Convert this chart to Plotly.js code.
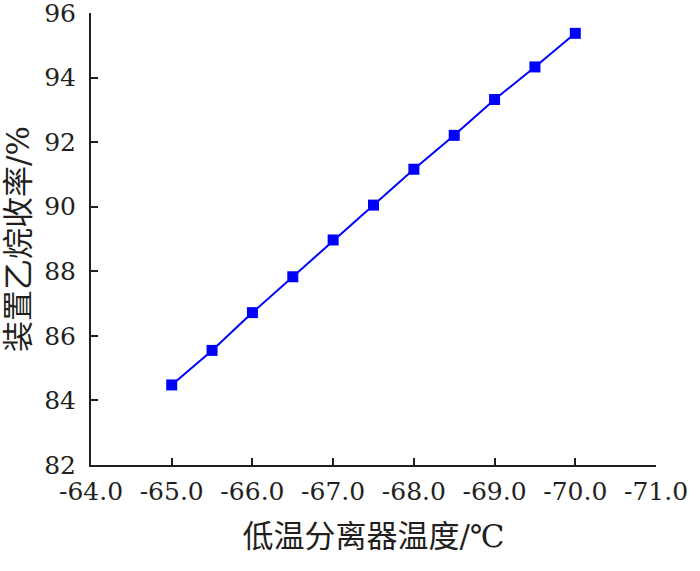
<!DOCTYPE html>
<html><head><meta charset="utf-8">
<script src="https://cdn.plot.ly/plotly-3.0.1.min.js"></script>
<style>html,body{margin:0;padding:0;background:#fff}#c{width:700px;height:571px}</style>
</head><body><div id="c"></div>
<script>
const temps = [-65.0, -65.5, -66.0, -66.5, -67.0, -67.5, -68.0, -68.5, -69.0, -69.5, -70.0];
const yieldPct = [84.48, 85.55, 86.72, 87.83, 88.97, 90.05, 91.16, 92.21, 93.32, 94.33, 95.37];
const xTickVals = [-64, -65, -66, -67, -68, -69, -70, -71];
const xTickText = ['-64.0', '-65.0', '-66.0', '-67.0', '-68.0', '-69.0', '-70.0', '-71.0'];
const yTickVals = [82, 84, 86, 88, 90, 92, 94, 96];
const yTickText = ['82', '84', '86', '88', '90', '92', '94', '96'];
const xTitle = '低温分离器温度/℃';
const yTitle = '装置乙烷收率/%';

const serif = "DejaVu Serif, serif";
const titleFont = "DejaVu Serif, Noto Sans CJK SC";
const axisColor = '#231f20';

Plotly.newPlot('c', [{
  x: temps, y: yieldPct, type: 'scatter', mode: 'lines+markers',
  line: {color: '#0000ff', width: 2},
  marker: {symbol: 'square', size: 11, color: '#0000ff'},
  cliponaxis: false
}], {
  width: 700, height: 571,
  margin: {l: 91, r: 44, t: 13, b: 106},
  paper_bgcolor: '#fff', plot_bgcolor: '#fff',
  showlegend: false,
  font: {family: serif, color: axisColor, size: 25},
  xaxis: {
    range: [-64, -71], tickmode: 'array', tickvals: xTickVals, ticktext: xTickText,
    showgrid: false, zeroline: false, showline: true, linecolor: axisColor, linewidth: 2,
    ticks: 'inside', ticklen: 7, tickwidth: 2, tickcolor: axisColor,
    ticklabeloverflow: 'allow', ticklabelstandoff: 3,
    tickfont: {family: serif, size: 25, color: axisColor},
    title: {text: xTitle, font: {family: titleFont, size: 31, color: axisColor}, standoff: 20}
  },
  yaxis: {
    range: [82, 96], tickmode: 'array', tickvals: yTickVals, ticktext: yTickText,
    showgrid: false, zeroline: false, showline: true, linecolor: axisColor, linewidth: 2,
    ticks: 'inside', ticklen: 7, tickwidth: 2, tickcolor: axisColor,
    ticklabeloverflow: 'allow', ticklabelstandoff: 8,
    tickfont: {family: serif, size: 25, color: axisColor},
    title: {text: yTitle, font: {family: titleFont, size: 31, color: axisColor}, standoff: 12}
  }
}, {displayModeBar: false, staticPlot: true});
</script></body></html>
